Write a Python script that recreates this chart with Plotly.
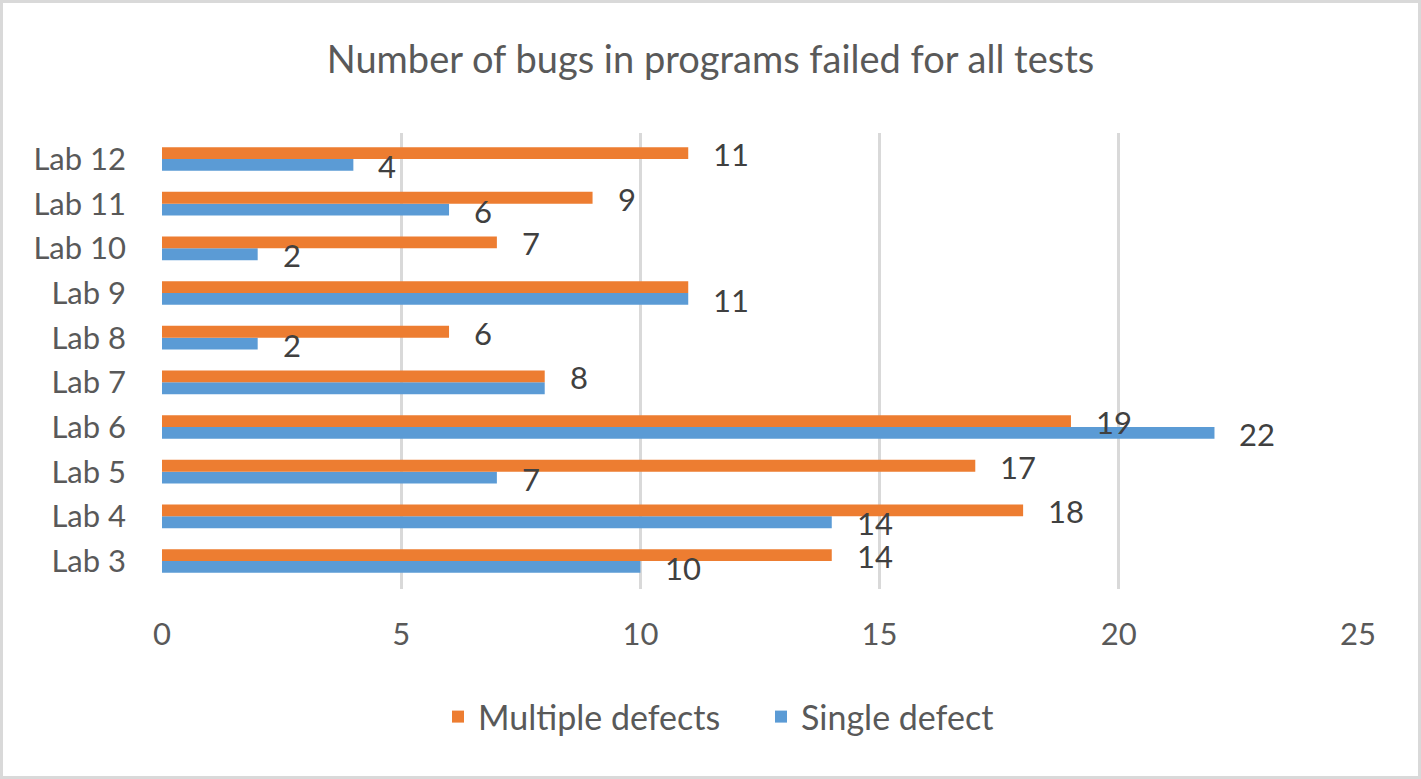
import plotly.graph_objects as go

# ---- data ----
labs = ["Lab 3", "Lab 4", "Lab 5", "Lab 6", "Lab 7", "Lab 8", "Lab 9", "Lab 10", "Lab 11", "Lab 12"]
single_defect = [10, 14, 7, 22, 8, 2, 11, 2, 6, 4]
multiple_defects = [14, 18, 17, 19, 8, 6, 11, 7, 9, 11]
# data labels shown (Excel hid one of each overlapping pair)
single_labels = ["10", "14", "7", "22", "", "2", "11", "2", "6", "4"]
multiple_labels = ["14", "18", "17", "19", "8", "6", "", "7", "9", "11"]
x_ticks = [0, 5, 10, 15, 20, 25]

ORANGE = "#ED7D31"
BLUE = "#5B9BD5"
TXT = "#595959"
FONT = "Lato"
FS = 31

W, H = 1421, 779
L, R, T, B = 162, 63, 133, 190
PW, PH = W - L - R, H - T - B

fig = go.Figure()
fig.add_trace(go.Bar(y=labs, x=single_defect, orientation="h", name="Single defect",
                     marker=dict(color=BLUE, line=dict(width=0))))
fig.add_trace(go.Bar(y=labs, x=multiple_defects, orientation="h", name="Multiple defects",
                     marker=dict(color=ORANGE, line=dict(width=0))))

annotations = []
for lab, v, t in zip(labs, multiple_defects, multiple_labels):
    if t:
        annotations.append(dict(x=v, y=lab, text=t, xref="x", yref="y", showarrow=False,
                                xanchor="left", yanchor="middle", xshift=23, yshift=5,
                                font=dict(family=FONT, size=FS, color="#404040")))
for lab, v, t in zip(labs, single_defect, single_labels):
    if t:
        annotations.append(dict(x=v, y=lab, text=t, xref="x", yref="y", showarrow=False,
                                xanchor="left", yanchor="middle", xshift=23, yshift=-7,
                                font=dict(family=FONT, size=FS, color="#404040")))

# outer border in paper coords
bx0 = (1.5 - L) / PW
bx1 = (W - 1.5 - L) / PW
by0 = (T + PH - (H - 1.5)) / PH
by1 = (T + PH - 1.5) / PH

fig.update_layout(
    width=W, height=H,
    margin=dict(l=L, r=R, t=T, b=B, autoexpand=False),
    paper_bgcolor="white", plot_bgcolor="white",
    font=dict(family=FONT, size=FS, color=TXT),
    title=dict(text="Number of bugs in programs failed for all tests",
               x=0.5, xanchor="center", y=1 - 60 / H, yanchor="middle",
               font=dict(family=FONT, size=38, color=TXT)),
    barmode="group", bargap=0.47, bargroupgap=0,
    xaxis=dict(range=[0, 25], tickvals=x_ticks, showgrid=True, gridcolor="#D9D9D9",
               gridwidth=2.5, zeroline=False, showline=False, ticks="",
               ticklabelstandoff=24, tickfont=dict(family=FONT, size=FS, color=TXT)),
    yaxis=dict(categoryorder="array", categoryarray=labs, showgrid=False, zeroline=False,
               showline=False, ticks="", ticklabelstandoff=35,
               tickfont=dict(family=FONT, size=FS, color=TXT)),
    legend=dict(orientation="h", x=(438 - L) / PW, xanchor="left",
                y=(T + PH - 717) / PH, yanchor="middle", traceorder="reversed",
                font=dict(family=FONT, size=34, color=TXT), itemwidth=30,
                entrywidth=278),
    annotations=annotations,
    shapes=[dict(type="rect", xref="paper", yref="paper", x0=bx0, x1=bx1, y0=by0, y1=by1,
                 line=dict(color="#D9D9D9", width=3), fillcolor="rgba(0,0,0,0)", layer="below")],
    showlegend=True,
)

fig.write_html("out.html", config={"displayModeBar": False},
               post_script="document.body.style.margin='0';document.body.style.padding='0';")
